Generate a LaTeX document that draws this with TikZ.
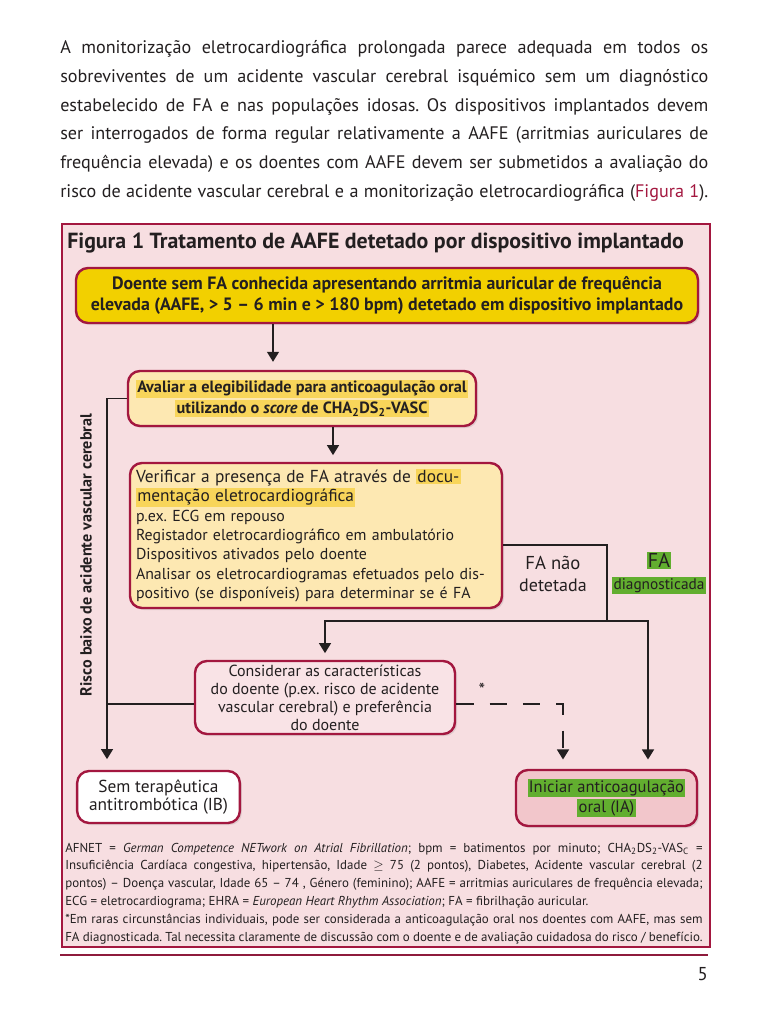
\documentclass[tikz,border=0pt]{standalone}
\usepackage{fontspec}
\setmainfont{PT Sans}
\usetikzlibrary{arrows.meta,shadows}
\frenchspacing

\definecolor{ink}{HTML}{231F20}
\definecolor{crimson}{HTML}{A3173F}
\definecolor{figbg}{HTML}{F7DEE1}
\definecolor{goldbox}{HTML}{F2D000}
\definecolor{creambox}{HTML}{FDE8B2}
\definecolor{hlyellow}{HTML}{F8D55A}
\definecolor{hlgreen}{HTML}{62AE2F}
\definecolor{rosebox}{HTML}{F2C6CB}
\definecolor{palebox}{HTML}{F9E3E6}
\definecolor{rulered}{HTML}{8E1B3C}

\newcommand{\hly}[1]{{\setlength{\fboxsep}{1pt}\colorbox{hlyellow}{#1}}}
\newcommand{\hlg}[1]{{\setlength{\fboxsep}{1pt}\colorbox{hlgreen}{#1}}}
\newcommand{\parline}[1]{\makebox[486pt][s]{#1}}
\newcommand{\noteline}[1]{\makebox[478pt][s]{#1}}

\tikzset{
    flowbox/.style={draw=crimson, line width=1.8pt, rounded corners=9pt,
        align=center, inner sep=2pt,
        drop shadow={shadow xshift=1.5pt, shadow yshift=-1.5pt, opacity=0.2}},
    arr/.style={-{Triangle[width=9pt,length=7.5pt]}, line width=1pt},
    link/.style={line width=1pt},
    parfont/.style={font=\fontsize{13.6}{16}\selectfont},
    notefont/.style={font=\fontsize{9.7}{12}\selectfont},
}

\begin{document}
\begin{tikzpicture}[x=0.75pt,y=-0.75pt,color=ink]
    \useasboundingbox (0,0) rectangle (768,1024);
    \fill[white] (0,0) rectangle (768,1024);

    % paragraph above the figure
    \node[parfont,anchor=base west,inner sep=0] (par1) at (60,54) {\parline{A monitorização eletrocardiográfica prolongada parece adequada em todos os}};
    \node[parfont,anchor=base west,inner sep=0] (par2) at (60,82.6) {\parline{sobreviventes de um acidente vascular cerebral isquémico sem um diagnóstico}};
    \node[parfont,anchor=base west,inner sep=0] (par3) at (60,111.2) {\parline{estabelecido de FA e nas populações idosas. Os dispositivos implantados devem}};
    \node[parfont,anchor=base west,inner sep=0] (par4) at (60,139.8) {\parline{ser interrogados de forma regular relativamente a AAFE (arritmias auriculares de}};
    \node[parfont,anchor=base west,inner sep=0] (par5) at (60,168.4) {\parline{frequência elevada) e os doentes com AAFE devem ser submetidos a avaliação do}};
    \node[parfont,anchor=base west,inner sep=0] (par6) at (60,197) {\parline{risco de acidente vascular cerebral e a monitorização eletrocardiográfica (\textcolor{crimson}{Figura 1}).}};

    % figure frame
    \draw[crimson,fill=figbg,line width=1.1pt] (62,224) rectangle (710,947);
    \node[anchor=base west,inner sep=0,font=\bfseries\fontsize{16.4}{18}\selectfont] (title) at (67,248)
        {Figura 1 Tratamento de AAFE detetado por dispositivo implantado};

    % boxes
    \node[flowbox,fill=goldbox,minimum width=466.5pt,minimum height=41.25pt,
        font=\bfseries\fontsize{13.4}{15.2}\selectfont] (detect) at (387,295.5)
        {Doente sem FA conhecida apresentando arritmia auricular de frequência\\
         elevada (AAFE, > 5 – 6 min e > 180 bpm) detetado em dispositivo implantado};
    \node[flowbox,fill=creambox,minimum width=261pt,minimum height=41.25pt,
        font=\bfseries\fontsize{12.2}{15.5}\selectfont] (elig) at (302,398.5)
        {\hly{Avaliar a elegibilidade para anticoagulação oral}\\
         \hly{utilizando o \textit{score} de CHA\textsubscript{2}DS\textsubscript{2}-VASC}};
    \node[flowbox,fill=creambox,minimum width=279pt,minimum height=108.75pt,
        inner xsep=4pt,text width=270pt,align=left,font=\fontsize{11.9}{14.6}\selectfont] (verify) at (316,535.5)
        {{\fontsize{13}{14.6}\selectfont Verificar a presença de FA através de \hly{docu-}}\\
         {\fontsize{13}{14.6}\selectfont \hly{mentação eletrocardiográfica}}\\
         p.ex.\ ECG em repouso\\
         Registador eletrocardiográfico em ambulatório\\
         Dispositivos ativados pelo doente\\
         Analisar os eletrocardiogramas efetuados pelo dis-\\
         positivo (se disponíveis) para determinar se é FA};
    \node[flowbox,fill=palebox,minimum width=195pt,minimum height=54.75pt,
        font=\fontsize{12}{13.5}\selectfont] (consider) at (325,697.5)
        {Considerar as características\\
         do doente (p.ex.\ risco de acidente\\
         vascular cerebral) e preferência\\
         do doente};
    \node[flowbox,fill=white,minimum width=122pt,minimum height=39pt,
        font=\fontsize{13}{14}\selectfont] (noanti) at (158.5,797)
        {Sem terapêutica\\antitrombótica (IB)};
    \node[flowbox,fill=rosebox,minimum width=135.75pt,minimum height=42pt,
        font=\fontsize{12.4}{15}\selectfont] (startoac) at (606.5,798)
        {\hlg{Iniciar anticoagulação}\\\hlg{oral (IA)}};

    % side labels
    \node[rotate=90,font=\bfseries\fontsize{12.1}{14}\selectfont] (lowrisk) at (86,555)
        {Risco baixo de acidente vascular cerebral};
    \node[align=center,font=\fontsize{13.5}{16.5}\selectfont] (notfound) at (553,574)
        {{\fontsize{14}{16.5}\selectfont FA não}\\detetada};
    \node[align=center,font=\fontsize{11.5}{16}\selectfont] (found) at (659,573)
        {{\fontsize{15}{16}\selectfont\hlg{FA}}\\\hlg{diagnosticada}};
    \node[font=\fontsize{14}{14}\selectfont] (star) at (482,690) {*};

    % connectors
    \coordinate (fork) at (607,621);
    \draw[arr,shorten >=6pt] (273,0 |- detect.south) -- (273,0 |- elig.north);
    \draw[arr,shorten >=5pt] (333,0 |- elig.south) -- (333,0 |- verify.north);
    \draw[arr,shorten >=8pt] (elig.west) -| (107,0 |- noanti.north);
    \draw[link] (consider.west |- 0,704) -- (107,704);
    \draw[link] (verify.east |- 0,545) -| (fork);
    \draw[arr,shorten >=5pt] (fork) -| (consider.north);
    \draw[arr,shorten >=7pt] (fork) -| (648,0 |- startoac.north);
    \draw[arr,dash pattern=on 13pt off 12pt,shorten >=7pt] (consider.east |- 0,704) -| (563,0 |- startoac.north);

    % footnote
    \node[notefont,anchor=base west,inner sep=0] (note1) at (65,852) {\noteline{AFNET = \textit{German Competence NETwork on Atrial Fibrillation}; bpm = batimentos por minuto; CHA\textsubscript{2}DS\textsubscript{2}-VAS\textsubscript{C} =}};
    \node[notefont,anchor=base west,inner sep=0] (note2) at (65,869.8) {\noteline{Insuficiência Cardíaca congestiva, hipertensão, Idade \ensuremath{\geq} 75 (2 pontos), Diabetes, Acidente vascular cerebral (2}};
    \node[notefont,anchor=base west,inner sep=0] (note3) at (65,887.6) {\noteline{pontos) – Doença vascular, Idade 65 – 74 , Género (feminino); AAFE = arritmias auriculares de frequência elevada;}};
    \node[notefont,anchor=base west,inner sep=0] (note4) at (65,905.4) {ECG = eletrocardiograma; EHRA = \textit{European Heart Rhythm Association}; FA = fibrilhação auricular.};
    \node[notefont,anchor=base west,inner sep=0] (note5) at (65,923.2) {\noteline{*Em raras circunstâncias individuais, pode ser considerada a anticoagulação oral nos doentes com AAFE, mas sem}};
    \node[notefont,anchor=base west,inner sep=0] (note6) at (65,941) {\noteline{FA diagnosticada. Tal necessita claramente de discussão com o doente e de avaliação cuidadosa do risco / benefício.}};

    % page foot
    \draw[rulered,line width=2.2pt] (60,955) -- (708,955);
    \node[anchor=base east,inner sep=0,font=\fontsize{14}{15}\selectfont] (pagenum) at (708,980) {5};
\end{tikzpicture}
\end{document}
